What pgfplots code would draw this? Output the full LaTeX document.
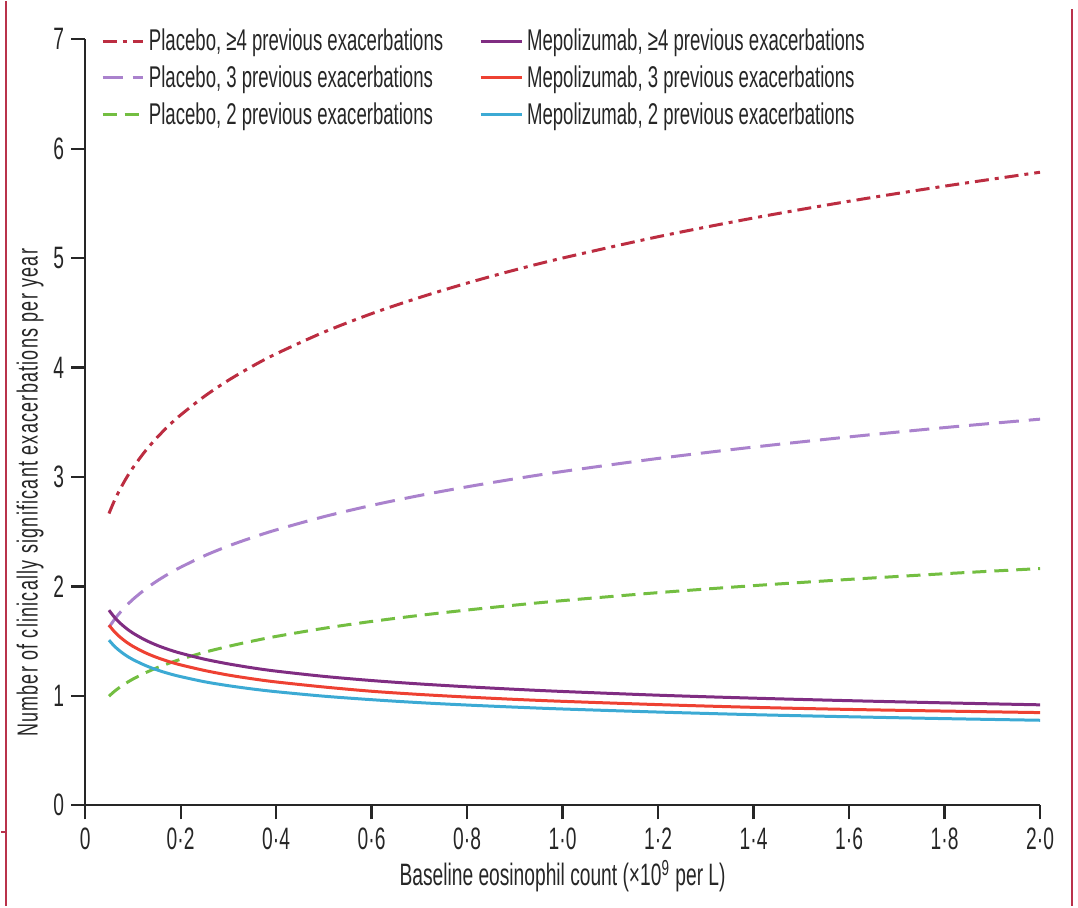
\documentclass[border=0pt]{standalone}
\usepackage{pgfplots}
\pgfplotsset{compat=1.18}
\usepackage{fontspec}
\setmainfont[FakeStretch=0.62]{Liberation Sans}
\definecolor{pfour}{RGB}{188,45,65}
\definecolor{pthree}{RGB}{170,130,205}
\definecolor{ptwo}{RGB}{115,190,65}
\definecolor{mfour}{RGB}{128,45,130}
\definecolor{mthree}{RGB}{238,65,50}
\definecolor{mtwo}{RGB}{60,170,212}
\definecolor{frame}{RGB}{185,50,75}
\begin{document}
\begin{tikzpicture}
\begin{axis}[
  name=ax,
  at={(0,0)}, anchor=south west,
  scale only axis,
  width=478pt, height=383.5pt,
  xmin=0, xmax=2.0, ymin=0, ymax=7,
  axis x line*=bottom, axis y line*=left,
  axis line style={line width=1.1pt, black!85},
  tick style={line width=1.1pt, black!85},
  tick align=outside,
  major tick length=7pt,
  xtick={0,0.2,0.4,0.6,0.8,1.0,1.2,1.4,1.6,1.8,2.0},
  xticklabels={0,0·2,0·4,0·6,0·8,1·0,1·2,1·4,1·6,1·8,2·0},
  ytick={0,1,2,3,4,5,6,7},
  yticklabels={0,1,2,3,4,5,6,7},
  ticklabel style={font=\fontsize{15.5}{17}\selectfont, text=black!85},
  xticklabel style={yshift=-1pt},
  xlabel={Baseline eosinophil count (×10\textsuperscript{9} per L)},
  ylabel={Number of clinically significant exacerbations per year},
  label style={font=\fontsize{15.5}{17}\selectfont, text=black!85},
  xlabel style={yshift=2pt},
  ylabel style={at={(ticklabel cs:0.08)}, anchor=south west, yshift=-2pt,
    font=\fontsize{14.5}{16}\selectfont\addfontfeature{LetterSpace=4.3}},
  legend columns=3,
  transpose legend,
  legend cell align=left,
  legend style={at={(axis cs:0.02,7.17)}, anchor=north west, draw=none, fill=none,
    font=\fontsize{15}{17}\selectfont, text=black!85,
    /tikz/every even column/.append style={column sep=16pt},
    row sep=2pt},
  legend image code/.code={\draw[#1] (0cm,0cm) -- (0.72cm,0cm);},
  every axis plot/.append style={line width=1.5pt, smooth},
]
\addplot[pfour, dash pattern=on 7pt off 3pt on 2pt off 3pt] coordinates {
(0.05,2.666)(0.06,2.770)(0.07,2.861)(0.085,2.980)(0.1,3.083)(0.125,3.231)(0.15,3.357)(0.175,3.468)(0.2,3.566)(0.25,3.737)(0.3,3.883)(0.35,4.011)(0.4,4.125)(0.5,4.323)(0.6,4.492)(0.7,4.639)(0.8,4.771)(0.9,4.891)(1.0,5.000)(1.2,5.195)(1.4,5.366)(1.6,5.519)(1.8,5.657)(2.0,5.784)};
\addlegendentry{Placebo, ≥4 previous exacerbations}
\addplot[pthree, dash pattern=on 10pt off 5pt] coordinates {
(0.05,1.626)(0.06,1.689)(0.07,1.745)(0.085,1.817)(0.1,1.881)(0.125,1.971)(0.15,2.048)(0.175,2.115)(0.2,2.175)(0.25,2.280)(0.3,2.369)(0.35,2.446)(0.4,2.516)(0.5,2.637)(0.6,2.740)(0.7,2.830)(0.8,2.910)(0.9,2.983)(1.0,3.050)(1.2,3.169)(1.4,3.273)(1.6,3.366)(1.8,3.451)(2.0,3.528)};
\addlegendentry{Placebo, 3 previous exacerbations}
\addplot[ptwo, dash pattern=on 7pt off 4pt] coordinates {
(0.05,0.997)(0.06,1.036)(0.07,1.070)(0.085,1.114)(0.1,1.153)(0.125,1.208)(0.15,1.256)(0.175,1.297)(0.2,1.334)(0.25,1.398)(0.3,1.452)(0.35,1.500)(0.4,1.543)(0.5,1.617)(0.6,1.680)(0.7,1.735)(0.8,1.784)(0.9,1.829)(1.0,1.870)(1.2,1.943)(1.4,2.007)(1.6,2.064)(1.8,2.116)(2.0,2.163)};
\addlegendentry{Placebo, 2 previous exacerbations}
\addplot[mfour] coordinates {
(0.05,1.783)(0.06,1.726)(0.07,1.678)(0.085,1.621)(0.1,1.574)(0.125,1.512)(0.15,1.463)(0.175,1.423)(0.2,1.390)(0.25,1.335)(0.3,1.292)(0.35,1.256)(0.4,1.226)(0.5,1.178)(0.6,1.140)(0.7,1.109)(0.8,1.083)(0.9,1.060)(1.0,1.040)(1.2,1.006)(1.4,0.979)(1.6,0.956)(1.8,0.936)(2.0,0.918)};
\addlegendentry{Mepolizumab, ≥4 previous exacerbations}
\addplot[mthree] coordinates {
(0.05,1.646)(0.06,1.593)(0.07,1.549)(0.085,1.496)(0.1,1.453)(0.125,1.396)(0.15,1.351)(0.175,1.314)(0.2,1.283)(0.25,1.232)(0.3,1.190)(0.35,1.156)(0.4,1.127)(0.5,1.081)(0.6,1.042)(0.7,1.013)(0.8,0.989)(0.9,0.968)(1.0,0.950)(1.2,0.920)(1.4,0.895)(1.6,0.876)(1.8,0.861)(2.0,0.847)};
\addlegendentry{Mepolizumab, 3 previous exacerbations}
\addplot[mtwo] coordinates {
(0.05,1.509)(0.06,1.460)(0.07,1.420)(0.085,1.371)(0.1,1.332)(0.125,1.280)(0.15,1.238)(0.175,1.204)(0.2,1.176)(0.25,1.129)(0.3,1.093)(0.35,1.063)(0.4,1.038)(0.5,0.997)(0.6,0.965)(0.7,0.938)(0.8,0.916)(0.9,0.897)(1.0,0.880)(1.2,0.852)(1.4,0.828)(1.6,0.809)(1.8,0.792)(2.0,0.777)};
\addlegendentry{Mepolizumab, 2 previous exacerbations}
\end{axis}
% frame decorations of the reference scan
\draw[frame, line width=1.2pt] (-39.5pt,402.5pt) -- (-39.5pt,-50.5pt);
\draw[frame, line width=1.2pt] (-42pt,-13.5pt) -- (-39.5pt,-13.5pt);
\draw[frame, line width=1.2pt] (494pt,398.5pt) -- (494pt,-50.5pt);
\path (-42pt,-50.5pt) rectangle (497pt,402.5pt);
\end{tikzpicture}
\end{document}
